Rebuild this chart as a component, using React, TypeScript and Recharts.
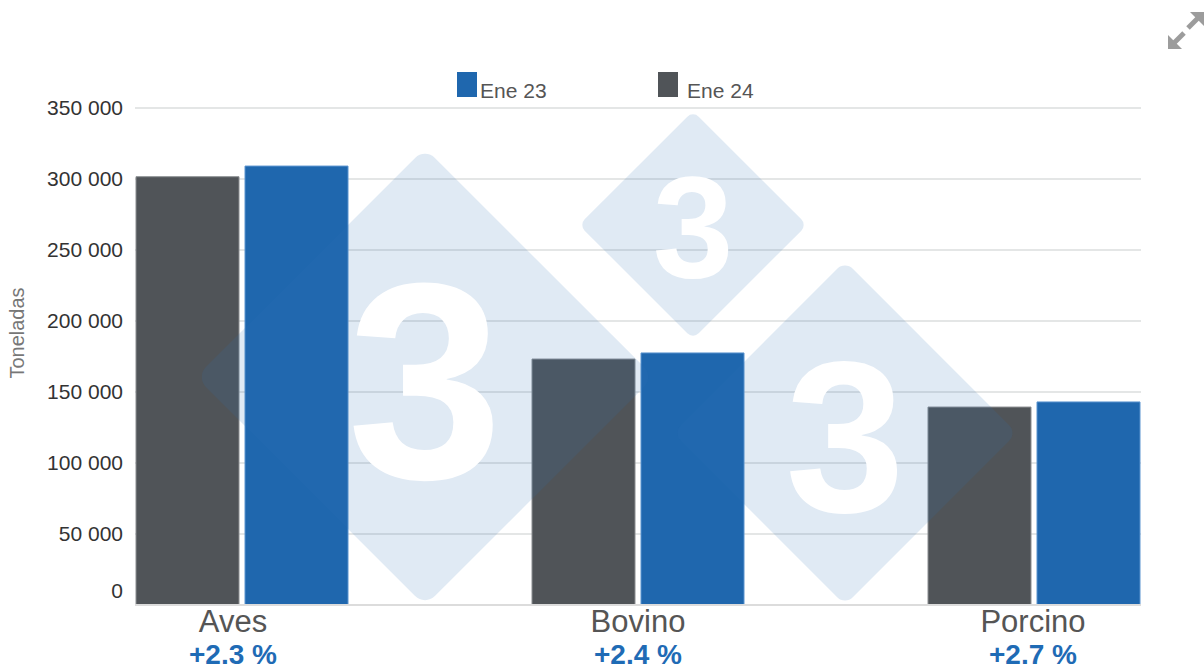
import React from "react";
import { Bar, BarChart, CartesianGrid, XAxis, YAxis } from "recharts";

// Values (toneladas)
const categories = ["Aves", "Bovino", "Porcino"];
const changes = ["+2.3 %", "+2.4 %", "+2.7 %"];
const ene24 = [301600, 173200, 139400]; // gray bars
const ene23 = [309100, 177500, 143000]; // blue bars
const yTicks = [0, 50000, 100000, 150000, 200000, 250000, 300000, 350000];

const series = [
  { key: "ene23", name: "Ene 23", color: "#1f67ae" },
  { key: "ene24", name: "Ene 24", color: "#505458" },
];

const data = categories.map((name, i) => ({
  name,
  change: changes[i],
  ene24: ene24[i],
  ene23: ene23[i],
}));

const FONT = "'Liberation Sans', Arial, sans-serif";

// labels in the source sit a touch off the band centres
const labelShift = [-9, 0, -1];

function formatThousands(v: number): string {
  return String(v).replace(/\B(?=(\d{3})+(?!\d))/g, " ");
}

function CategoryTick(props: any) {
  const { x, y, payload, index } = props;
  const cx = x + (labelShift[index] ?? 0);
  return (
    <g>
      <text x={cx} y={y + 25} textAnchor="middle" fontSize={31} fill="#555" fontFamily={FONT}>
        {payload.value}
      </text>
      <text
        x={cx}
        y={y + 57}
        textAnchor="middle"
        fontSize={28}
        fontWeight="bold"
        fill="#1f6bb5"
        fontFamily={FONT}
      >
        {changes[index]}
      </text>
    </g>
  );
}

function ValueTick(props: any) {
  const { x, y, payload } = props;
  const dy = payload.value === 0 ? -7 : 7;
  return (
    <text x={x} y={y + dy} textAnchor="end" fontSize={21} fill="#333" fontFamily={FONT}>
      {formatThousands(payload.value)}
    </text>
  );
}

function Watermark() {
  const diamonds = [
    { cx: 425, cy: 377, d: 229, rx: 14, fs: 280, base: 478 },
    { cx: 693, cy: 225, d: 114, rx: 8, fs: 145, base: 277 },
    { cx: 845, cy: 433, d: 172, rx: 11, fs: 215, base: 512 },
  ];
  return (
    <svg
      width={1204}
      height={671}
      style={{ position: "absolute", left: 0, top: 0, pointerEvents: "none" }}
    >
      {diamonds.map((m, i) => {
        const s = m.d * Math.SQRT2;
        return (
          <g key={i}>
            <rect
              x={m.cx - s / 2}
              y={m.cy - s / 2}
              width={s}
              height={s}
              rx={m.rx}
              fill="#2f70b8"
              fillOpacity={0.15}
              transform={`rotate(45 ${m.cx} ${m.cy})`}
            />
            <text
              x={m.cx}
              y={m.base}
              textAnchor="middle"
              fontSize={m.fs}
              fontWeight="bold"
              fill="#fff"
              fontFamily={FONT}
            >
              3
            </text>
          </g>
        );
      })}
      {/* expand icon */}
      <g fill="#9c9c9c" stroke="#9c9c9c">
        <polygon points="1168,49 1168,35 1182,49" stroke="none" />
        <line x1={1172} y1={45} x2={1184} y2={33} strokeWidth={5} />
        <polygon points="1204,12 1190,12 1204,26" stroke="none" />
        <line x1={1200} y1={16} x2={1188} y2={28} strokeWidth={5} />
      </g>
    </svg>
  );
}

function LegendBox() {
  const lefts = [457, 658];
  return (
    <>
      {series.map((s, i) => (
        <div
          key={s.key}
          style={{ position: "absolute", left: lefts[i], top: 72, display: "flex", alignItems: "flex-end" }}
        >
          <div style={{ width: 20, height: 25, background: s.color }} />
          <span
            style={{
              marginLeft: i === 0 ? 3 : 9,
              fontSize: 21,
              color: "#555",
              fontFamily: FONT,
              lineHeight: "24px",
              position: "relative",
              top: 6,
            }}
          >
            {s.name}
          </span>
        </div>
      ))}
    </>
  );
}

export default function App() {
  return (
    <div
      style={{
        position: "absolute",
        left: 0,
        top: 0,
        width: 1204,
        height: 671,
        background: "#fff",
        overflow: "hidden",
        fontFamily: FONT,
      }}
    >
      <BarChart
        width={1204}
        height={671}
        data={data}
        margin={{ top: 108, right: 63, bottom: 0, left: 0 }}
        barCategoryGap={92}
        barGap={6}
      >
        <CartesianGrid vertical={false} stroke="#e4e6e6" strokeWidth={2} />
        <YAxis
          width={135}
          domain={[0, 350000]}
          ticks={yTicks}
          interval={0}
          axisLine={false}
          tickLine={false}
          tickSize={0}
          tickMargin={12}
          tick={<ValueTick />}
          label={{
            content: () => (
              <text
                x={24}
                y={333}
                transform="rotate(-90 24 333)"
                textAnchor="middle"
                fontSize={20}
                fill="#777"
                fontFamily={FONT}
              >
                Toneladas
              </text>
            ),
          }}
        />
        <XAxis
          dataKey="name"
          height={66}
          padding={{ left: -91, right: -91 }}
          axisLine={{ stroke: "#dcdcdc", strokeWidth: 2 }}
          tickLine={false}
          tickSize={0}
          interval={0}
          tick={<CategoryTick />}
        />
        <Bar dataKey="ene24" name="Ene 24" fill="#505458" stroke="#8a8d90" strokeWidth={1} isAnimationActive={false} />
        <Bar dataKey="ene23" name="Ene 23" fill="#1f67ae" stroke="#5b94cf" strokeWidth={1} isAnimationActive={false} />
      </BarChart>
      <Watermark />
      <LegendBox />
    </div>
  );
}
